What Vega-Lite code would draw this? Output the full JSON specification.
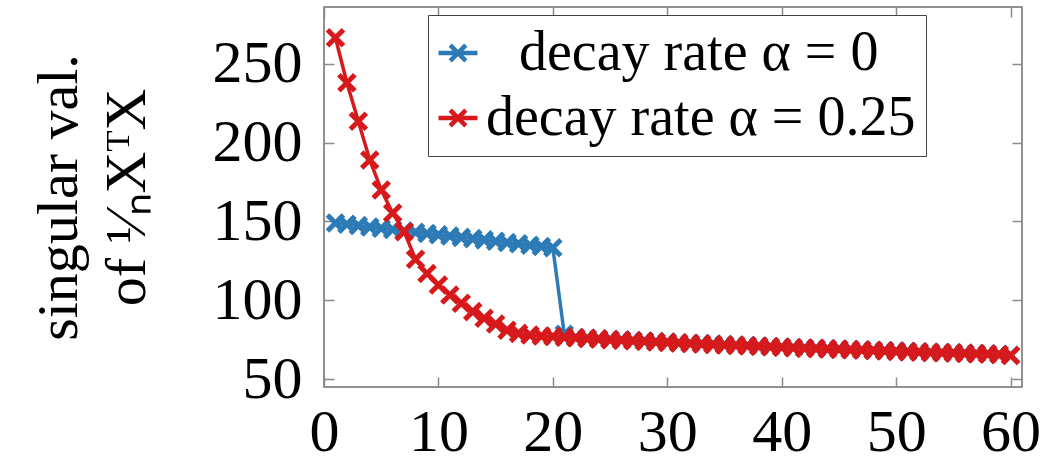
{
  "$schema": "https://vega.github.io/schema/vega-lite/v6.json",
  "width": 698,
  "height": 380,
  "autosize": {"type": "none"},
  "padding": {"left": 324, "top": 7, "right": 21, "bottom": 85},
  "background": "white",
  "config": {
    "view": {"stroke": "#6e6e6e", "strokeWidth": 1.5},
    "font": "Liberation Serif",
    "axis": {
      "labelFont": "Liberation Serif",
      "labelFontSize": 60,
      "labelColor": "#000000",
      "tickColor": "#8a8a8a",
      "tickWidth": 1.5,
      "tickSize": -10,
      "domain": false,
      "grid": false
    },
    "legend": {
      "orient": "none",
      "legendX": 104,
      "legendY": 8,
      "labelFont": "Liberation Serif",
      "labelFontSize": 56,
      "labelColor": "#000000",
      "labelLimit": 800,
      "labelOffset": 0,
      "symbolOffset": -8,
      "symbolType": "M-1,0L1,0M-0.4,-0.4L0.4,0.4M-0.4,0.4L0.4,-0.4",
      "symbolSize": 1521,
      "symbolStrokeWidth": 4.5,
      "symbolFillColor": "transparent",
      "strokeColor": "#444444",
      "fillColor": "white",
      "padding": 10,
      "rowPadding": 9
    }
  },
  "data": {
    "values": [
      {"x": 1, "v": 149.0, "s": "decay rate α = 0"},
      {"x": 2, "v": 148.2, "s": "decay rate α = 0"},
      {"x": 3, "v": 147.4, "s": "decay rate α = 0"},
      {"x": 4, "v": 146.5, "s": "decay rate α = 0"},
      {"x": 5, "v": 145.7, "s": "decay rate α = 0"},
      {"x": 6, "v": 144.9, "s": "decay rate α = 0"},
      {"x": 7, "v": 144.0, "s": "decay rate α = 0"},
      {"x": 8, "v": 143.2, "s": "decay rate α = 0"},
      {"x": 9, "v": 142.4, "s": "decay rate α = 0"},
      {"x": 10, "v": 141.6, "s": "decay rate α = 0"},
      {"x": 11, "v": 140.7, "s": "decay rate α = 0"},
      {"x": 12, "v": 139.9, "s": "decay rate α = 0"},
      {"x": 13, "v": 139.1, "s": "decay rate α = 0"},
      {"x": 14, "v": 138.3, "s": "decay rate α = 0"},
      {"x": 15, "v": 137.4, "s": "decay rate α = 0"},
      {"x": 16, "v": 136.6, "s": "decay rate α = 0"},
      {"x": 17, "v": 135.8, "s": "decay rate α = 0"},
      {"x": 18, "v": 134.9, "s": "decay rate α = 0"},
      {"x": 19, "v": 134.1, "s": "decay rate α = 0"},
      {"x": 20, "v": 133.3, "s": "decay rate α = 0"},
      {"x": 21, "v": 78.5, "s": "decay rate α = 0"},
      {"x": 22, "v": 76.4, "s": "decay rate α = 0"},
      {"x": 23, "v": 76.0, "s": "decay rate α = 0"},
      {"x": 24, "v": 75.6, "s": "decay rate α = 0"},
      {"x": 25, "v": 75.2, "s": "decay rate α = 0"},
      {"x": 26, "v": 74.9, "s": "decay rate α = 0"},
      {"x": 27, "v": 74.5, "s": "decay rate α = 0"},
      {"x": 28, "v": 74.2, "s": "decay rate α = 0"},
      {"x": 29, "v": 73.8, "s": "decay rate α = 0"},
      {"x": 30, "v": 73.5, "s": "decay rate α = 0"},
      {"x": 31, "v": 73.1, "s": "decay rate α = 0"},
      {"x": 32, "v": 72.8, "s": "decay rate α = 0"},
      {"x": 33, "v": 72.5, "s": "decay rate α = 0"},
      {"x": 34, "v": 72.2, "s": "decay rate α = 0"},
      {"x": 35, "v": 71.9, "s": "decay rate α = 0"},
      {"x": 36, "v": 71.6, "s": "decay rate α = 0"},
      {"x": 37, "v": 71.3, "s": "decay rate α = 0"},
      {"x": 38, "v": 71.0, "s": "decay rate α = 0"},
      {"x": 39, "v": 70.7, "s": "decay rate α = 0"},
      {"x": 40, "v": 70.4, "s": "decay rate α = 0"},
      {"x": 41, "v": 70.1, "s": "decay rate α = 0"},
      {"x": 42, "v": 69.8, "s": "decay rate α = 0"},
      {"x": 43, "v": 69.6, "s": "decay rate α = 0"},
      {"x": 44, "v": 69.3, "s": "decay rate α = 0"},
      {"x": 45, "v": 69.1, "s": "decay rate α = 0"},
      {"x": 46, "v": 68.8, "s": "decay rate α = 0"},
      {"x": 47, "v": 68.6, "s": "decay rate α = 0"},
      {"x": 48, "v": 68.3, "s": "decay rate α = 0"},
      {"x": 49, "v": 68.1, "s": "decay rate α = 0"},
      {"x": 50, "v": 67.8, "s": "decay rate α = 0"},
      {"x": 51, "v": 67.6, "s": "decay rate α = 0"},
      {"x": 52, "v": 67.4, "s": "decay rate α = 0"},
      {"x": 53, "v": 67.1, "s": "decay rate α = 0"},
      {"x": 54, "v": 66.9, "s": "decay rate α = 0"},
      {"x": 55, "v": 66.7, "s": "decay rate α = 0"},
      {"x": 56, "v": 66.5, "s": "decay rate α = 0"},
      {"x": 57, "v": 66.3, "s": "decay rate α = 0"},
      {"x": 58, "v": 66.1, "s": "decay rate α = 0"},
      {"x": 59, "v": 65.8, "s": "decay rate α = 0"},
      {"x": 60, "v": 65.2, "s": "decay rate α = 0"},
      {"x": 1, "v": 266.5, "s": "decay rate α = 0.25"},
      {"x": 2, "v": 238.0, "s": "decay rate α = 0.25"},
      {"x": 3, "v": 213.5, "s": "decay rate α = 0.25"},
      {"x": 4, "v": 189.0, "s": "decay rate α = 0.25"},
      {"x": 5, "v": 170.0, "s": "decay rate α = 0.25"},
      {"x": 6, "v": 155.3, "s": "decay rate α = 0.25"},
      {"x": 7, "v": 143.5, "s": "decay rate α = 0.25"},
      {"x": 8, "v": 126.0, "s": "decay rate α = 0.25"},
      {"x": 9, "v": 117.0, "s": "decay rate α = 0.25"},
      {"x": 10, "v": 109.7, "s": "decay rate α = 0.25"},
      {"x": 11, "v": 103.4, "s": "decay rate α = 0.25"},
      {"x": 12, "v": 98.1, "s": "decay rate α = 0.25"},
      {"x": 13, "v": 92.8, "s": "decay rate α = 0.25"},
      {"x": 14, "v": 88.6, "s": "decay rate α = 0.25"},
      {"x": 15, "v": 85.0, "s": "decay rate α = 0.25"},
      {"x": 16, "v": 81.0, "s": "decay rate α = 0.25"},
      {"x": 17, "v": 79.0, "s": "decay rate α = 0.25"},
      {"x": 18, "v": 78.0, "s": "decay rate α = 0.25"},
      {"x": 19, "v": 77.4, "s": "decay rate α = 0.25"},
      {"x": 20, "v": 77.0, "s": "decay rate α = 0.25"},
      {"x": 21, "v": 76.6, "s": "decay rate α = 0.25"},
      {"x": 22, "v": 76.2, "s": "decay rate α = 0.25"},
      {"x": 23, "v": 75.8, "s": "decay rate α = 0.25"},
      {"x": 24, "v": 75.4, "s": "decay rate α = 0.25"},
      {"x": 25, "v": 75.0, "s": "decay rate α = 0.25"},
      {"x": 26, "v": 74.7, "s": "decay rate α = 0.25"},
      {"x": 27, "v": 74.3, "s": "decay rate α = 0.25"},
      {"x": 28, "v": 74.0, "s": "decay rate α = 0.25"},
      {"x": 29, "v": 73.6, "s": "decay rate α = 0.25"},
      {"x": 30, "v": 73.3, "s": "decay rate α = 0.25"},
      {"x": 31, "v": 72.9, "s": "decay rate α = 0.25"},
      {"x": 32, "v": 72.6, "s": "decay rate α = 0.25"},
      {"x": 33, "v": 72.3, "s": "decay rate α = 0.25"},
      {"x": 34, "v": 72.0, "s": "decay rate α = 0.25"},
      {"x": 35, "v": 71.7, "s": "decay rate α = 0.25"},
      {"x": 36, "v": 71.4, "s": "decay rate α = 0.25"},
      {"x": 37, "v": 71.1, "s": "decay rate α = 0.25"},
      {"x": 38, "v": 70.8, "s": "decay rate α = 0.25"},
      {"x": 39, "v": 70.5, "s": "decay rate α = 0.25"},
      {"x": 40, "v": 70.2, "s": "decay rate α = 0.25"},
      {"x": 41, "v": 69.9, "s": "decay rate α = 0.25"},
      {"x": 42, "v": 69.6, "s": "decay rate α = 0.25"},
      {"x": 43, "v": 69.4, "s": "decay rate α = 0.25"},
      {"x": 44, "v": 69.1, "s": "decay rate α = 0.25"},
      {"x": 45, "v": 68.9, "s": "decay rate α = 0.25"},
      {"x": 46, "v": 68.6, "s": "decay rate α = 0.25"},
      {"x": 47, "v": 68.4, "s": "decay rate α = 0.25"},
      {"x": 48, "v": 68.1, "s": "decay rate α = 0.25"},
      {"x": 49, "v": 67.9, "s": "decay rate α = 0.25"},
      {"x": 50, "v": 67.6, "s": "decay rate α = 0.25"},
      {"x": 51, "v": 67.4, "s": "decay rate α = 0.25"},
      {"x": 52, "v": 67.2, "s": "decay rate α = 0.25"},
      {"x": 53, "v": 66.9, "s": "decay rate α = 0.25"},
      {"x": 54, "v": 66.7, "s": "decay rate α = 0.25"},
      {"x": 55, "v": 66.5, "s": "decay rate α = 0.25"},
      {"x": 56, "v": 66.3, "s": "decay rate α = 0.25"},
      {"x": 57, "v": 66.1, "s": "decay rate α = 0.25"},
      {"x": 58, "v": 65.9, "s": "decay rate α = 0.25"},
      {"x": 59, "v": 65.6, "s": "decay rate α = 0.25"},
      {"x": 60, "v": 65.0, "s": "decay rate α = 0.25"}
    ]
  },
  "layer": [
    {
      "encoding": {
        "x": {
          "field": "x",
          "type": "quantitative",
          "scale": {"domain": [0, 61], "nice": false, "zero": false},
          "axis": {"orient": "bottom", "values": [0, 10, 20, 30, 40, 50, 60], "title": null, "labelPadding": 26, "labelFlush": false}
        },
        "y": {
          "field": "v",
          "type": "quantitative",
          "scale": {"domain": [45, 286], "nice": false, "zero": false},
          "axis": {
            "orient": "left",
            "values": [50, 100, 150, 200, 250],
            "labelPadding": 32,
            "title": ["singular val.", "of ¹⁄ₙXᵀX"],
            "titleFont": "Liberation Serif",
            "titleFontSize": 58,
            "titleFontWeight": "normal",
            "titleColor": "#000000",
            "titleAngle": -90,
            "titleBaseline": "alphabetic",
            "titleAlign": "center",
            "titleLineHeight": 68,
            "titleX": -248,
            "titleY": 190
          }
        },
        "color": {
          "field": "s",
          "type": "nominal",
          "scale": {"domain": ["decay rate α = 0", "decay rate α = 0.25"], "range": ["#2c7bb6", "#d7191c"]},
          "legend": {
            "title": null,
            "encode": {
              "labels": {"update": {"dx": {"signal": "datum.value === 'decay rate α = 0' ? 33 : 0"}}}
            }
          }
        }
      },
      "layer": [
        {
          "transform": [{"filter": "datum.s === 'decay rate α = 0'"}],
          "mark": {"type": "line", "strokeWidth": 3.5}
        },
        {
          "transform": [{"filter": "datum.s === 'decay rate α = 0'"}],
          "mark": {"type": "point", "shape": "M-1,-1L1,1M-1,1L1,-1", "filled": false, "size": 256, "strokeWidth": 5, "opacity": 1}
        },
        {
          "transform": [{"filter": "datum.s === 'decay rate α = 0.25'"}],
          "mark": {"type": "line", "strokeWidth": 3.5}
        },
        {
          "transform": [{"filter": "datum.s === 'decay rate α = 0.25'"}],
          "mark": {"type": "point", "shape": "M-1,-1L1,1M-1,1L1,-1", "filled": false, "size": 256, "strokeWidth": 5, "opacity": 1}
        }
      ]
    },
    {
      "mark": {"type": "point", "opacity": 0},
      "encoding": {
        "x": {"field": "x", "type": "quantitative", "axis": {"orient": "top", "values": [0, 10, 20, 30, 40, 50, 60], "labels": false, "title": null}},
        "y": {"field": "v", "type": "quantitative", "axis": {"orient": "right", "values": [50, 100, 150, 200, 250], "labels": false, "title": null}}
      }
    }
  ],
  "resolve": {"axis": {"x": "independent", "y": "independent"}}
}
